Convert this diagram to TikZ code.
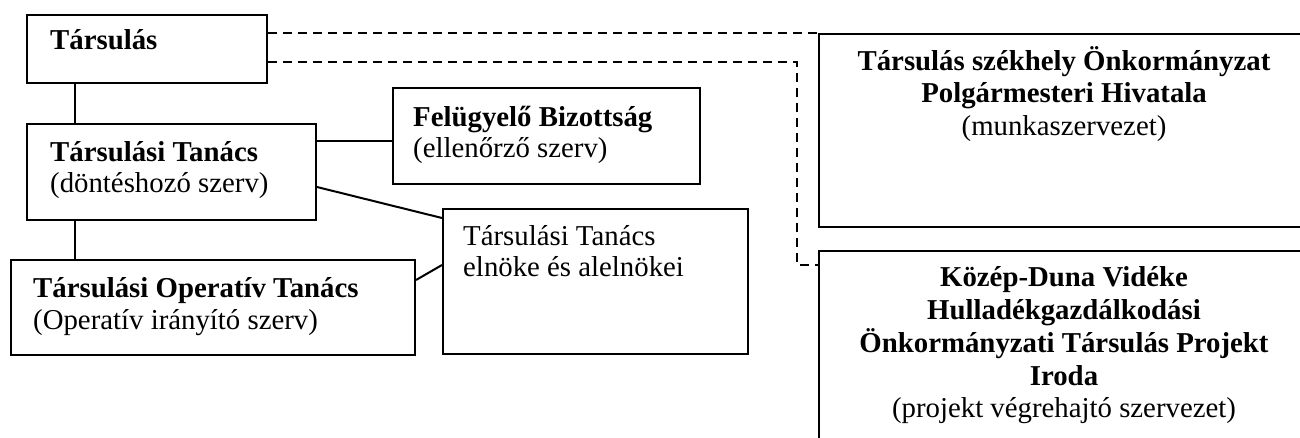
\documentclass[tikz,border=0pt]{standalone}
\usepackage{fontspec}
\setmainfont{Liberation Serif}
\tikzset{
  box/.style={draw, line width=2pt, rectangle, inner sep=0pt, anchor=north west},
  lbl/.style={inner sep=0pt, anchor=base west, font=\fontsize{28.8}{31.5}\selectfont},
  clbl/.style={inner sep=0pt, anchor=base, font=\fontsize{28.8}{32.5}\selectfont},
  link/.style={line width=2pt},
  dlink/.style={line width=2pt, dash pattern=on 9pt off 6pt},
}
\begin{document}
\begin{tikzpicture}[x=1pt,y=-1pt]
\useasboundingbox (0,0) rectangle (1300,437);
\clip (0,0) rectangle (1300,437);
% boxes
\node[box, minimum width=240pt, minimum height=68pt] (tars) at (26,14) {};
\node[box, minimum width=289pt, minimum height=96pt] (tt) at (26,123) {};
\node[box, minimum width=307pt, minimum height=96pt] (fb) at (392,87) {};
\node[box, minimum width=305pt, minimum height=145pt] (eln) at (442,208) {};
\node[box, minimum width=404pt, minimum height=95pt] (tot) at (10,259) {};
\node[box, minimum width=492pt, minimum height=193pt] (ur) at (818,33) {};
\node[box, minimum width=492pt, minimum height=230pt] (lr) at (818,250) {};
% texts
\node[lbl] (tarsT) at (50,49) {\textbf{Társulás}};
\node[lbl] (ttT) at (50,161) {\begin{tabular}[t]{@{}l@{}}\textbf{Társulási Tanács}\\(döntéshozó szerv)\end{tabular}};
\node[lbl] (fbT) at (413,126) {\begin{tabular}[t]{@{}l@{}}\textbf{Felügyelő Bizottság}\\(ellenőrző szerv)\end{tabular}};
\node[lbl] (elnT) at (463,245) {\begin{tabular}[t]{@{}l@{}}Társulási Tanács\\elnöke és alelnökei\end{tabular}};
\node[lbl] (totT) at (33,297.5) {\begin{tabular}[t]{@{}l@{}}\textbf{Társulási Operatív Tanács}\\(Operatív irányító szerv)\end{tabular}};
\node[clbl] (urT) at (1064,70) {\begin{tabular}[t]{@{}c@{}}\textbf{Társulás székhely Önkormányzat}\\\textbf{Polgármesteri Hivatala}\\(munkaszervezet)\end{tabular}};
\node[clbl] (lrT) at (1064,286.5) {\begin{tabular}[t]{@{}c@{}}\textbf{Közép-Duna Vidéke}\\\textbf{Hulladékgazdálkodási}\\\textbf{Önkormányzati Társulás Projekt}\\\textbf{Iroda}\\(projekt végrehajtó szervezet)\end{tabular}};
% solid connectors
\draw[link] ([xshift=49pt]tars.south west) -- ([xshift=49pt]tt.north west);
\draw[link] ([yshift=-18pt]tt.north east) -- ([yshift=-18pt]tt.north east -| fb.west);
\draw[link] ([yshift=-64pt]tt.north east) -- ([yshift=-10pt]eln.north west);
\draw[link] ([xshift=49pt]tt.south west) -- ([xshift=49pt]tt.south west |- tot.north);
\draw[link] ([yshift=-21pt]tot.north east) -- ([yshift=-57pt]eln.north west);
% dashed connectors
\draw[dlink] ([yshift=-19pt]tars.north east) -- (ur.north west);
\draw[dlink] ([yshift=-48pt]tars.north east) -- ++(529,0) |- ([yshift=-15pt]lr.north west);
\end{tikzpicture}
\end{document}
